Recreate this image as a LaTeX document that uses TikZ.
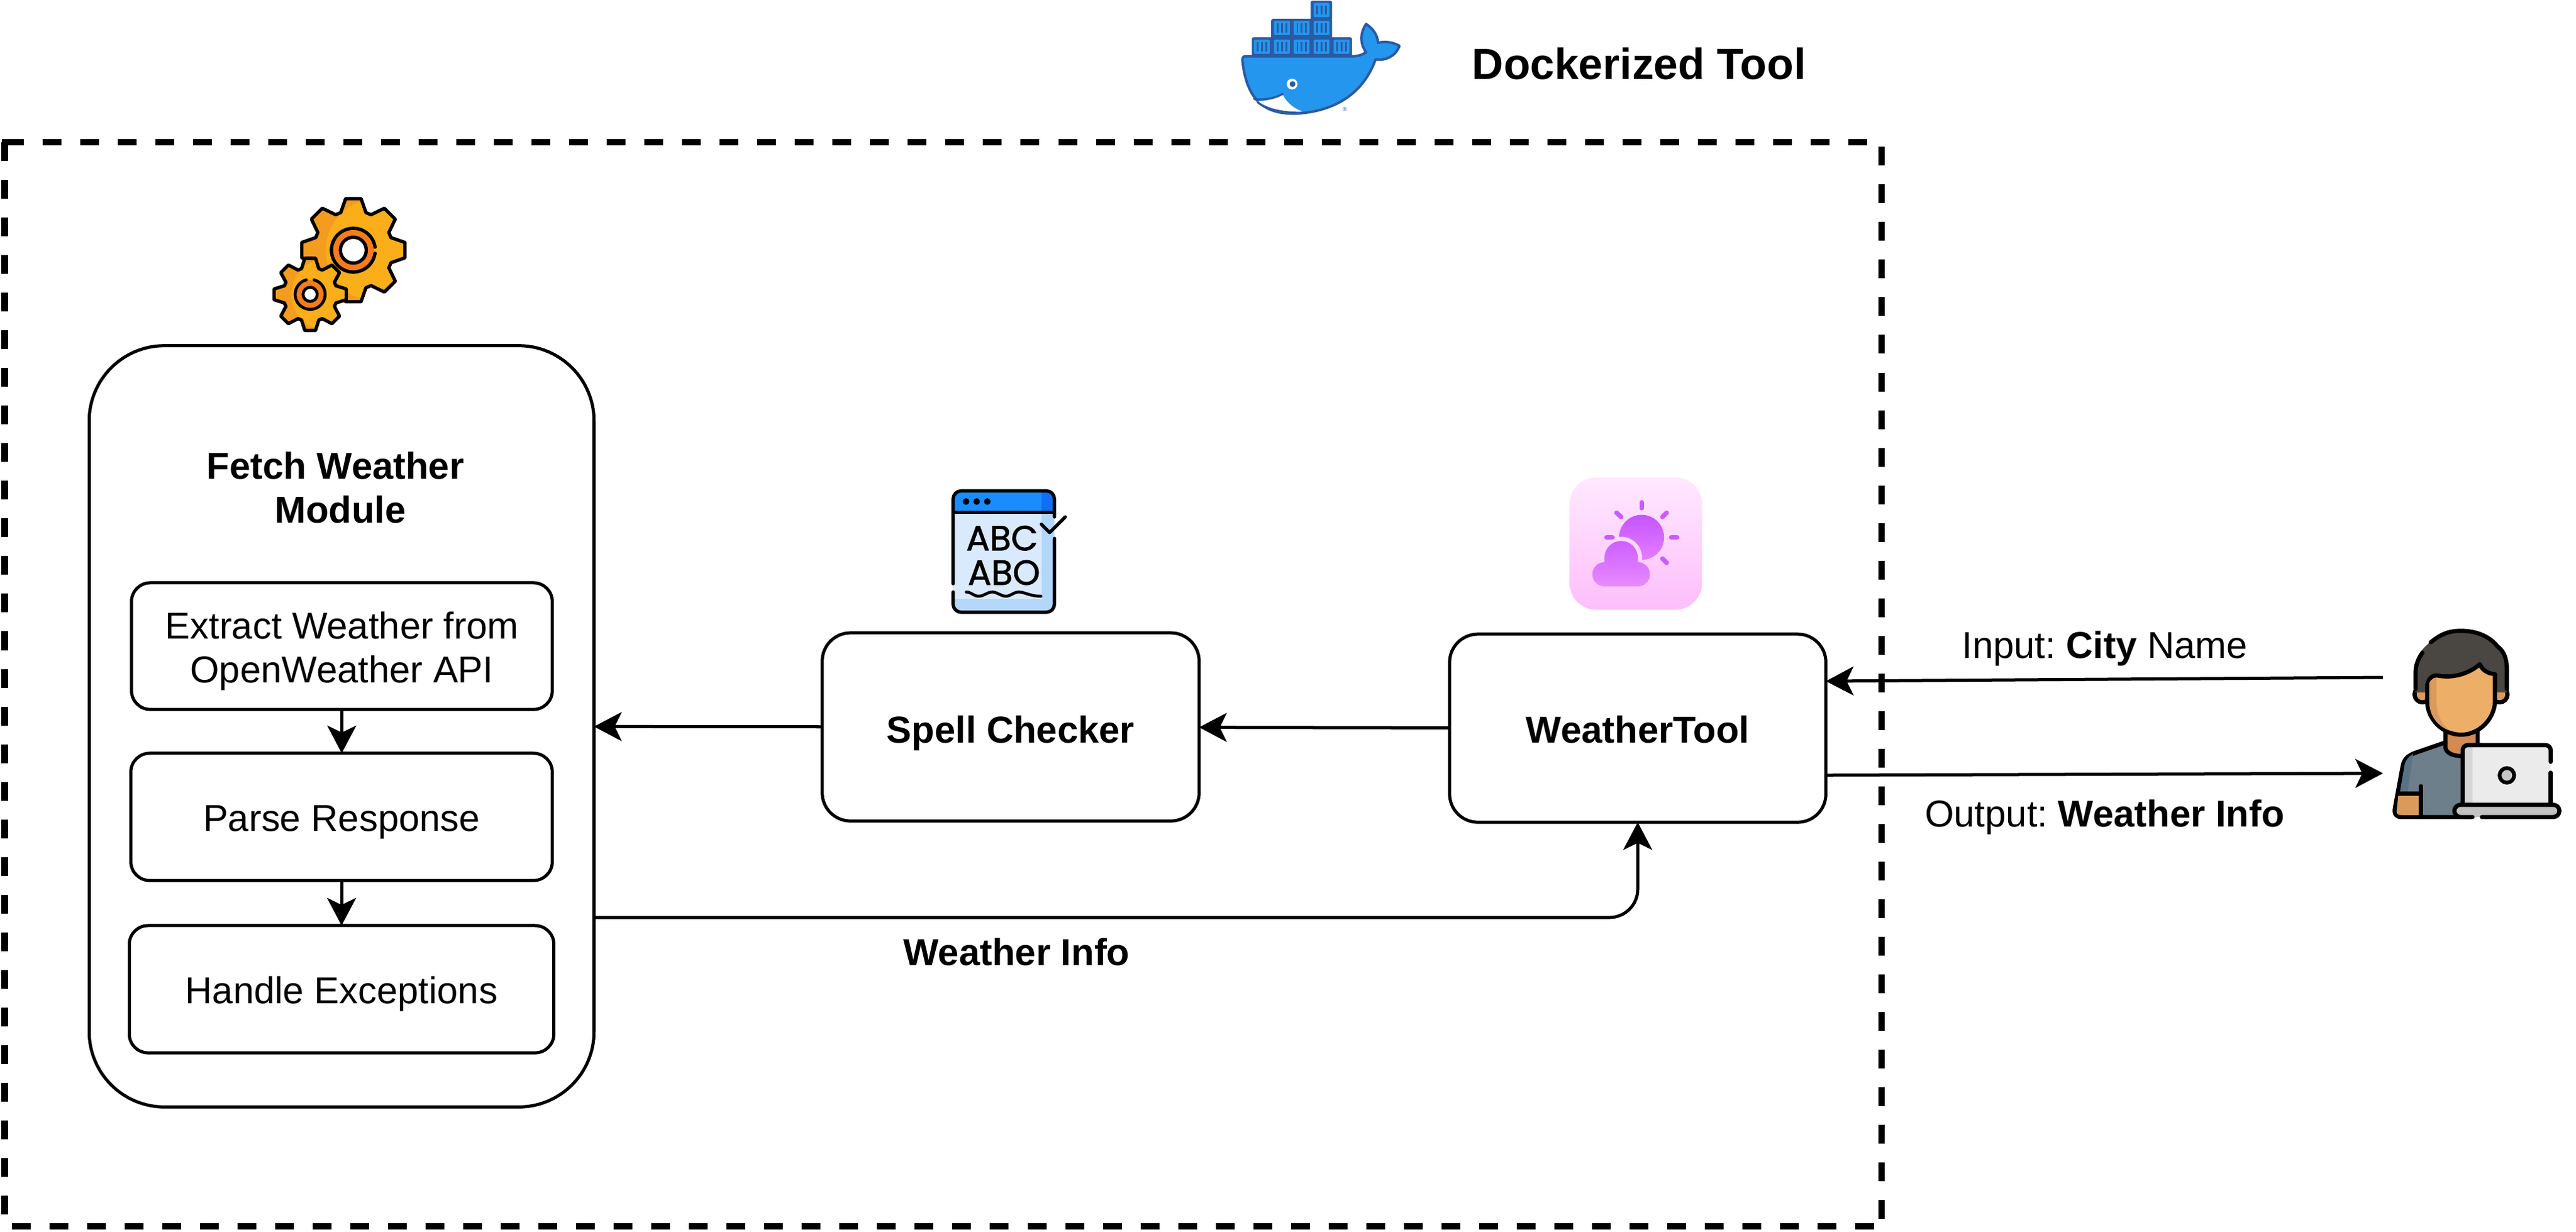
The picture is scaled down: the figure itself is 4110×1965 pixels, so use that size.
\documentclass[tikz,border=0pt]{standalone}
\usepackage{fontspec}
\setmainfont{Liberation Sans}
\newfontfamily\iconfont{Poppins}[FakeBold=1.6]
\usetikzlibrary{arrows.meta,calc}
\frenchspacing

\definecolor{whaleblue}{HTML}{2496ED}
\definecolor{whaledark}{HTML}{2A5AA5}
\definecolor{gearlight}{HTML}{F9AE1A}
\definecolor{geardark}{HTML}{F39C1F}
\definecolor{gearring}{HTML}{F47C1C}
\definecolor{pagelight}{HTML}{D9EAFD}
\definecolor{pagedark}{HTML}{B3D7FB}
\definecolor{barlight}{HTML}{1A8CFF}
\definecolor{bardark}{HTML}{0F6FF5}
\definecolor{tiletop}{HTML}{FFE9FF}
\definecolor{tilemid}{HTML}{FED6FE}
\definecolor{tilebottom}{HTML}{FDBEFB}
\definecolor{suntop}{HTML}{C455FF}
\definecolor{sunbottom}{HTML}{E57DFF}
\definecolor{hair}{HTML}{4A4642}
\definecolor{skin}{HTML}{EDAE68}
\definecolor{skindark}{HTML}{D99A5B}
\definecolor{neck}{HTML}{D28B53}
\definecolor{shirt}{HTML}{6C7F8A}
\definecolor{shirtdark}{HTML}{5A7383}

\tikzset{
  modulebox/.style={draw,line width=.05cm,rounded corners=.3cm,inner sep=0pt,outer sep=0pt,
    text height=.55cm,text depth=.1cm,align=center},
  mainbox/.style={modulebox,rounded corners=.45cm,font=\fontsize{17}{19.9}\selectfont\bfseries,
    text height=.6cm,text depth=.1cm},
  flow/.style={line width=.05cm,-{Stealth[length=.44cm,width=.46cm,inset=.11cm]}},
  labeltext/.style={anchor=base,inner sep=0pt,outer sep=0pt},
  zoomed/.style={shift={#1},x=.0033333cm,y=-.0033333cm},
  iconline/.style={line width=#1*.0033333cm,line cap=round,line join=round},
}

\newcommand{\gearoutline}[2]{(-8.5:#1) \foreach \a in {0,45,...,315}{ -- (\a-8.5:#1) -- (\a+8.5:#1) -- (\a+18.5:#2) -- (\a+26.5:#2) } -- cycle}
\newcommand{\gearbody}[6]{%
  \begin{scope}[shift={(#1,#2)}]
    \begin{scope}
      \clip \gearoutline{#3}{#4};
      \fill[geardark] (-400,-400) rectangle (400,400);
      \fill[gearlight] (#5,0) circle (#6);
    \end{scope}
    \draw[iconline=16] \gearoutline{#3}{#4};
  \end{scope}}

\begin{document}
\begin{tikzpicture}[x=.01cm,y=-.01cm,font=\fontsize{17}{19.9}\selectfont]
\useasboundingbox (0,0) rectangle (4110,1965);

% outer frame
\draw[line width=.1cm,dash pattern=on .3cm off .3cm] (7.5,227) -| (3002,1957);
\draw[line width=.1cm,dash pattern=on .3cm off .3cm] (7.5,227) |- (3002,1957);
\fill (2.5,222) rectangle (7.5,227);
\node[labeltext,font=\fontsize{19.8}{23}\selectfont\bfseries] (dockertitle) at (2615,126) {Dockerized Tool};

% boxes
\node[modulebox,rounded corners=1.2cm,minimum width=8.05cm,minimum height=12.14cm] (fetch) at (545,1159) {};
\node[labeltext,align=center] (fetchtitle) at (543,834) {\textbf{Fetch Weather}\kern.16cm\\\textbf{Module}};
\node[modulebox,minimum width=6.71cm,minimum height=2.02cm,text height=1.28cm,text depth=.11cm] (extractbox) at (545.5,1031) {Extract Weather from\\OpenWeather API};
\node[modulebox,minimum width=6.72cm,minimum height=2.03cm] (parsebox) at (545,1303.5) {Parse Response};
\node[modulebox,minimum width=6.77cm,minimum height=2.03cm] (handlebox) at (545,1578.5) {Handle Exceptions};
\node[mainbox,minimum width=6.01cm,minimum height=3cm] (spell) at (1612.5,1160) {Spell Checker};
\node[mainbox,minimum width=6cm,minimum height=3cm,text height=.56cm] (tool) at (2613,1162) {WeatherTool};
\coordinate (userin) at (3802,1081);
\coordinate (userout) at (3802,1234);

% arrows
\draw[flow] (extractbox) -- (parsebox);
\draw[flow] (parsebox) -- (handlebox);
\draw[flow] (tool) -- (spell);
\draw[flow] (spell) -- (fetch);
\draw[flow,rounded corners=.45cm] ($(fetch.east)+(0,305)$) -| (tool.south);
\draw[flow] (userin) -- ($(tool.east)+(0,-75)$);
\draw[flow] ($(tool.east)+(0,75)$) -- (userout);

% labels
\node[labeltext] (infolabel) at (1622,1540) {\textbf{Weather Info}};
\node[labeltext] (inputlabel) at (3358,1050) {Input: \textbf{City} Name};
\node[labeltext] (outputlabel) at (3358,1319) {Output: \textbf{Weather Info}};

% whale
\begin{scope}[zoomed={(1950,0)}]
  \fill[whaledark,rounded corners=.03cm] (142,178) rectangle (622,280);
  \fill[whaledark,rounded corners=.03cm] (235,90) rectangle (527,190);
  \fill[whaledark,rounded corners=.03cm] (424,3) rectangle (527,100);
  \foreach \cx/\cy in {190/224,286/224,381/224,476/224,572/224,286/134,381/134,476/134,476/48}{
    \fill[whaleblue,rounded corners=.015cm] (\cx-38,\cy-34) rectangle (\cx+38,\cy+34);
    \foreach \d in {-21,0,21}
      \fill[whaledark] (\d+\cx-4,\cy-22) rectangle (\d+\cx+4,\cy+22);
  }
  \draw[whaledark,fill=whaleblue,iconline=12] (110,270) -- (620,270)
    .. controls (650,270) and (675,262) .. (690,250)
    .. controls (660,210) and (660,160) .. (690,115)
    .. controls (720,135) and (745,165) .. (747,205)
    .. controls (785,195) and (825,205) .. (850,220)
    .. controls (830,270) and (785,292) .. (735,285)
    .. controls (680,440) and (550,535) .. (350,545)
    .. controls (230,545) and (120,510) .. (97,290)
    .. controls (97,278) and (100,270) .. (110,270) -- cycle;
  \fill[white] (168,486) .. controls (210,484) and (260,472) .. (291,455)
    .. controls (310,495) and (350,525) .. (393,537)
    .. controls (300,540) and (215,525) .. (168,486) -- cycle;
  \draw[whaledark,iconline=10] (152,474) .. controls (205,482) and (255,470) .. (290,450);
  \draw[whaledark,iconline=10] (170,490) .. controls (210,525) and (300,545) .. (393,540);
  \fill[white] (335,403) circle (26);
  \fill[whaledark] (337,403) circle (14);
  \node[text=whaledark,inner sep=0pt,font=\fontsize{2.6}{3}\selectfont] (whalemark) at (587,525) {®};
\end{scope}

% gears
\begin{scope}[zoomed={(420,300)}]
  \gearbody{432}{298}{250}{190}{115}{247}
  \fill[gearring] (432,298) circle (100);
  \fill[white] (432,298) circle (62);
  \draw[iconline=16] (432,298) circle (62);
  \draw[iconline=16] (432,298) ++(-8:105) arc (-8:-352:105);
  \gearbody{225}{510}{175}{130}{81}{171}
  \fill[gearring] (225,510) circle (68);
  \fill[white] (225,510) circle (32);
  \draw[iconline=14] (225,510) circle (34);
  \draw[iconline=14] (225,510) ++(-75:72) arc (-75:255:72);
\end{scope}

% spell icon
\begin{scope}[zoomed={(1500,770)}]
  \fill[pagedark,rounded corners=.13cm] (62,40) rectangle (548,622);
  \fill[pagelight] (62,142) rectangle (487,560);
  \fill[barlight,rounded corners=.13cm] (62,142) -- (62,40) -- (548,40) -- (548,142) -- cycle;
  \fill[bardark] (487,42) -- (520,42) .. controls (540,50) and (548,60) .. (548,80) -- (548,142) -- (487,142) -- cycle;
  \fill[barlight] (62,100) rectangle (487,142);
  \draw[iconline=16] (62,142) -- (548,142);
  \foreach \dx in {124,175,226} \fill (\dx,91) circle (16);
  \draw[iconline=16,rounded corners=.13cm] (62,485) -- (62,40) -- (548,40) -- (548,165);
  \draw[iconline=16,rounded corners=.13cm] (548,268) -- (548,622) -- (62,622) -- (62,525);
  \draw[iconline=16] (485,200) -- (525,240) -- (600,165);
  \node[labeltext,font=\iconfont\fontsize{15.8}{16}\selectfont] (abcword) at (297,325) {ABC};
  \node[labeltext,font=\iconfont\fontsize{15.8}{16}\selectfont] (aboword) at (306,490) {ABO};
  \draw[iconline=14] (125,525) .. controls (150,525) and (160,545) .. (185,545)
    .. controls (210,545) and (225,525) .. (250,525) .. controls (275,525) and (290,545) .. (315,545)
    .. controls (340,545) and (350,525) .. (378,525) .. controls (405,525) and (430,545) .. (483,545);
\end{scope}

% weather icon
\begin{scope}[zoomed={(2500,750)}]
  \shade[top color=tiletop,bottom color=tilebottom,rounded corners=.43cm] (12,35) rectangle (648,670);
  \shade[top color=suntop,bottom color=sunbottom] (358,323) circle (108);
  \fill[tilemid] (260,420) circle (100);
  \shade[top color=suntop!75!sunbottom,bottom color=sunbottom!90!white]
    (180,558) arc (90:270:58) -- (180,420) arc (180:360:80) -- (340,442) arc (-90:90:58) -- cycle;
  \foreach \ax/\ay/\bx/\by in {358/155/358/183,458/225/478/205,238/205/260/225,500/323/528/323,190/323/218/323,458/425/478/445}
    \draw[suntop!85!sunbottom,iconline=22] (\ax,\ay) -- (\bx,\by);
\end{scope}

% user icon
\begin{scope}[zoomed={(3810,990)}]
  \draw[fill=shirt,iconline=20] (275,585) -- (130,635) .. controls (90,650) and (75,670) .. (70,700)
    -- (33,900) .. controls (28,930) and (40,943) .. (65,943) -- (400,943) -- (470,600) -- cycle;
  \fill[shirtdark] (120,640) .. controls (90,660) and (80,680) .. (78,700) -- (58,820) -- (95,820) -- cycle;
  \fill[skindark] (50,835) -- (150,835) -- (150,933) -- (60,933) .. controls (45,933) and (38,925) .. (42,905) -- cycle;
  \draw[iconline=20] (50,830) -- (158,830);
  \draw[iconline=20] (158,795) -- (158,943);
  \draw[fill=neck,iconline=20] (275,530) -- (275,610) .. controls (280,640) and (320,650) .. (350,650) -- (430,650) -- (430,530) -- cycle;
  \draw[fill=skindark,iconline=20] (165,355) circle (38);
  \draw[fill=skindark,iconline=20] (535,355) circle (38);
  \fill[hair] (130,345) -- (130,230) .. controls (130,180) and (150,150) .. (200,105)
    .. controls (260,60) and (300,50) .. (350,50) .. controls (430,50) and (490,80) .. (525,125)
    .. controls (560,150) and (570,190) .. (570,240) -- (570,345) -- cycle;
  \draw[iconline=20] (205,105) .. controls (260,60) and (300,50) .. (350,50)
    .. controls (430,50) and (490,80) .. (525,125) .. controls (560,150) and (570,190) .. (570,240) -- (570,330);
  \draw[iconline=20] (165,155) .. controls (140,190) and (132,220) .. (132,250) -- (132,330);
  \draw[fill=skin,iconline=20] (188,310) .. controls (195,275) and (215,262) .. (235,264)
    .. controls (310,280) and (390,255) .. (440,210) .. controls (455,245) and (485,255) .. (513,258)
    -- (513,390) .. controls (510,470) and (440,548) .. (350,548)
    .. controls (260,548) and (188,470) .. (188,390) -- cycle;
  \fill[skindark] (198,300) .. controls (203,285) and (215,278) .. (232,275)
    -- (232,390) .. controls (232,450) and (260,505) .. (300,530) .. controls (240,510) and (198,460) .. (198,390) -- cycle;
  \fill[black!8,rounded corners=.08cm] (358,598) rectangle (780,880);
  \fill[black!16] (368,608) rectangle (405,880);
  \draw[iconline=20,rounded corners=.08cm] (358,880) -- (358,598) -- (780,598) -- (780,678);
  \draw[iconline=20] (780,730) -- (780,880);
  \draw[fill=black!22,iconline=18] (570,743) circle (35);
  \draw[fill=black!24,iconline=20,rounded corners=.1cm] (405,943) -- (318,943) -- (318,884) -- (822,884) -- (822,943) -- (450,943);
\end{scope}
\end{tikzpicture}
\end{document}
